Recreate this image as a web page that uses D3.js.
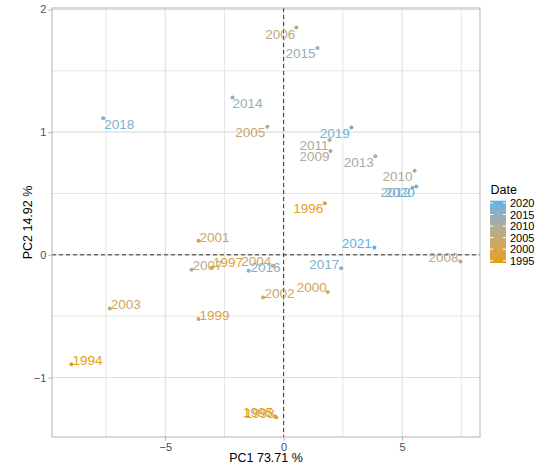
<!DOCTYPE html>
<html>
<head>
<meta charset="utf-8">
<script src="https://cdn.jsdelivr.net/npm/d3@7"></script>
<style>
  html, body { margin: 0; padding: 0; background: #fff; }
  text { font-family: "Liberation Sans", Arial, Helvetica, sans-serif; }
</style>
</head>
<body>
<svg id="chart" width="549" height="468"></svg>
<script>
// ---------- data ----------
const years = [1994,1995,1996,1997,1998,1999,2000,2001,2002,2003,2004,2005,2006,2007,
               2008,2009,2010,2011,2012,2013,2014,2015,2016,2017,2018,2019,2020,2021];
const pc1 = [-8.96,-0.36,1.74,-3.03,-0.31,-3.60,1.86,-3.60,-0.87,-7.34,-0.46,-0.69,0.536,-3.89,
             7.47,1.98,5.53,1.94,5.44,3.87,-2.16,1.43,-1.48,2.43,-7.62,2.86,5.60,3.83];
const pc2 = [-0.891,-1.318,0.421,-0.103,-1.326,-0.524,-0.304,0.114,-0.348,-0.437,-0.09,1.043,1.853,-0.122,
             -0.055,0.847,0.685,0.935,0.546,0.804,1.282,1.685,-0.13,-0.109,1.114,1.038,0.557,0.06];
const xTicks = [-5, 0, 5];
const yTicks = [-1, 0, 1, 2];
const legendBreaks = [1995, 2000, 2005, 2010, 2015, 2020];
const xTitle = "PC1 73.71 %";
const yTitle = "PC2 14.92 %";
const legendTitle = "Date";

// ---------- label placement (repel-like offsets, px) ----------
const labelPlace = {
  1994:["start",1,-4],1995:["end",-2,-4.2],1996:["end",-1.5,5.4],1997:["start",1,-5],
  1998:["end",-1.5,-4.4],1999:["start",1,-4.3],2000:["end",-1,-4.6],2001:["start",1,-4],
  2002:["start",1.5,-4],2003:["start",1,-4.4],2004:["end",-1.5,-5],2005:["end",-2,5.7],
  2006:["end",-1,6.6],2007:["start",1,-4.7],2008:["end",-2,-4],2009:["end",-1,5],
  2010:["end",-2,5.7],2011:["end",-1,5],2012:["end",-2,4.5],2013:["end",-1.5,5.7],
  2014:["start",0,6],2015:["end",-2,5],2016:["start",2,-4],2017:["end",-2,-4],
  2018:["start",1,5.7],2019:["end",-1.5,5.6],2020:["end",-1.5,6],2021:["end",-2.5,-4.4]
};

// ---------- layout ----------
const svg = d3.select("#chart");
svg.append("rect").attr("width",549).attr("height",468).attr("fill","#fff");
const P = {left:52, right:480, top:8, bottom:437};

function expand(ext){ const r = ext[1]-ext[0]; return [ext[0]-0.05*r, ext[1]+0.05*r]; }
const x = d3.scaleLinear().domain(expand(d3.extent(pc1))).range([P.left, P.right]);
const y = d3.scaleLinear().domain(expand(d3.extent(pc2))).range([P.bottom, P.top]);

const color = d3.scaleLinear().domain([d3.min(years), d3.max(years)])
  .range(["#E69F00", "#56B4E9"]).interpolate(d3.interpolateLab);

const g = svg.append("g");
const gridCol = "#DEDEDE";
// minor grid
const xMinor = [-7.5,-2.5,2.5,7.5].filter(v=>v>=x.domain()[0]&&v<=x.domain()[1]);
const yMinor = [-0.5,0.5,1.5].filter(v=>v>=y.domain()[0]&&v<=y.domain()[1]);
g.selectAll(".xm").data(xMinor).enter().append("line")
  .attr("x1",d=>x(d)).attr("x2",d=>x(d)).attr("y1",P.top).attr("y2",P.bottom)
  .attr("stroke",gridCol).attr("stroke-width",0.8);
g.selectAll(".ym").data(yMinor).enter().append("line")
  .attr("y1",d=>y(d)).attr("y2",d=>y(d)).attr("x1",P.left).attr("x2",P.right)
  .attr("stroke",gridCol).attr("stroke-width",0.8);
// major grid
g.selectAll(".xM").data(xTicks).enter().append("line")
  .attr("x1",d=>x(d)).attr("x2",d=>x(d)).attr("y1",P.top).attr("y2",P.bottom)
  .attr("stroke",gridCol).attr("stroke-width",1.1);
g.selectAll(".yM").data(yTicks).enter().append("line")
  .attr("y1",d=>y(d)).attr("y2",d=>y(d)).attr("x1",P.left).attr("x2",P.right)
  .attr("stroke",gridCol).attr("stroke-width",1.1);

// dashed zero lines
g.append("line").attr("x1",x(0)).attr("x2",x(0)).attr("y1",P.top).attr("y2",P.bottom)
  .attr("stroke","#333").attr("stroke-width",1).attr("stroke-dasharray","4,3");
g.append("line").attr("y1",y(0)).attr("y2",y(0)).attr("x1",P.left).attr("x2",P.right)
  .attr("stroke","#333").attr("stroke-width",1).attr("stroke-dasharray","4,3");

// points
const data = years.map((yr,i)=>({yr, a:pc1[i], b:pc2[i]}));
g.selectAll(".pt").data(data).enter().append("circle")
  .attr("cx",d=>x(d.a)).attr("cy",d=>y(d.b)).attr("r",2)
  .attr("fill",d=>color(d.yr));
// labels
g.selectAll(".lb").data(data).enter().append("text")
  .attr("x",d=>x(d.a)+labelPlace[d.yr][1])
  .attr("y",d=>y(d.b)+labelPlace[d.yr][2])
  .attr("dy","0.36em")
  .attr("text-anchor",d=>labelPlace[d.yr][0])
  .attr("font-size","13.5px")
  .attr("fill",d=>color(d.yr))
  .text(d=>d.yr);

// panel border
svg.append("rect").attr("x",P.left).attr("y",P.top)
  .attr("width",P.right-P.left).attr("height",P.bottom-P.top)
  .attr("fill","none").attr("stroke","#B3B3B3").attr("stroke-width",1);

// axes
const xAxis = d3.axisBottom(x).tickValues(xTicks).tickSize(3.7).tickPadding(2)
  .tickFormat(d=>d<0? "\u2212"+Math.abs(d) : d);
const ax = svg.append("g").attr("transform",`translate(0,${P.bottom})`).call(xAxis);
ax.select(".domain").remove();
ax.selectAll("line").attr("stroke","#B3B3B3");
ax.selectAll("text").attr("fill","#4D4D4D").attr("font-size","11px")
  .attr("font-family","Liberation Sans, Arial, sans-serif");

const yAxis = d3.axisLeft(y).tickValues(yTicks).tickSize(3.7).tickPadding(2)
  .tickFormat(d=>d<0? "\u2212"+Math.abs(d) : d);
const ay = svg.append("g").attr("transform",`translate(${P.left},0)`).call(yAxis);
ay.select(".domain").remove();
ay.selectAll("line").attr("stroke","#B3B3B3");
ay.selectAll("text").attr("fill","#4D4D4D").attr("font-size","11px")
  .attr("font-family","Liberation Sans, Arial, sans-serif");

// axis titles
svg.append("text").attr("x",(P.left+P.right)/2).attr("y",461.5)
  .attr("text-anchor","middle").attr("font-size","12.5px").attr("fill","#000").text(xTitle);
svg.append("text").attr("transform",`translate(31.5,${(P.top+P.bottom)/2}) rotate(-90)`)
  .attr("text-anchor","middle").attr("font-size","12.5px").attr("fill","#000").text(yTitle);

// legend
const L = {x:490, y:200.7, w:16, h:62.3};
const lg = svg.append("g");
lg.append("text").attr("x",L.x+0.5).attr("y",L.y-6.5).attr("font-size","12.5px")
  .attr("fill","#000").text(legendTitle);
const defs = svg.append("defs");
const grad = defs.append("linearGradient").attr("id","lgGrad")
  .attr("x1","0").attr("x2","0").attr("y1","1").attr("y2","0");
const yrMin = d3.min(years), yrMax = d3.max(years);
d3.range(0,1.0001,0.05).forEach(t=>{
  grad.append("stop").attr("offset",t).attr("stop-color",color(yrMin + t*(yrMax-yrMin)));
});
lg.append("rect").attr("x",L.x).attr("y",L.y).attr("width",L.w).attr("height",L.h)
  .attr("fill","url(#lgGrad)");
const ly = d3.scaleLinear().domain([yrMin,yrMax]).range([L.y+L.h, L.y]);
legendBreaks.forEach(b=>{
  lg.append("line").attr("x1",L.x).attr("x2",L.x+3.2).attr("y1",ly(b)).attr("y2",ly(b))
    .attr("stroke","#fff").attr("stroke-width",1);
  lg.append("line").attr("x1",L.x+L.w-3.2).attr("x2",L.x+L.w).attr("y1",ly(b)).attr("y2",ly(b))
    .attr("stroke","#fff").attr("stroke-width",1);
  lg.append("text").attr("x",L.x+L.w+4).attr("y",ly(b)).attr("dy","0.36em")
    .attr("font-size","11px").attr("fill","#000").text(b);
});
</script>
</body>
</html>
